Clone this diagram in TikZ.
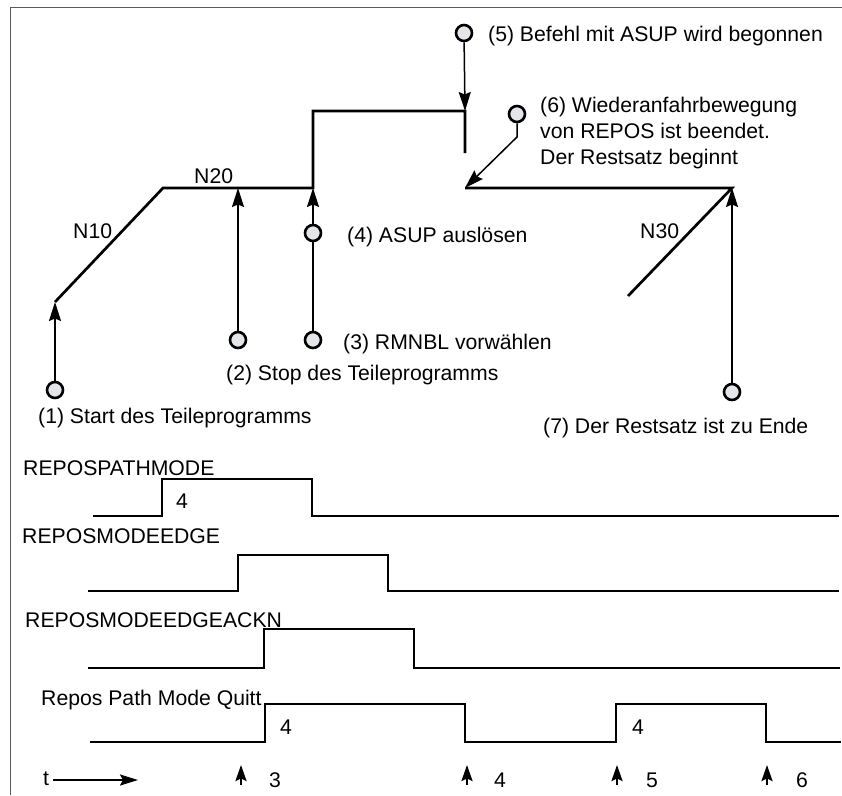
\documentclass[tikz,border=0pt]{standalone}
\usepackage{fontspec}
\setmainfont{Liberation Sans}
\usetikzlibrary{arrows.meta}
\definecolor{dotfill}{HTML}{E3E5E9}
\definecolor{framegray}{HTML}{5A5A5A}
\tikzset{
  lbl/.style={anchor=base west, inner sep=0pt, font=\fontsize{21.2}{26}\selectfont},
  dot/.style={circle, draw=black, line width=2.6pt, fill=dotfill, minimum size=16pt, inner sep=0pt},
  course/.style={line width=2.7pt, line join=miter},
  pointer/.style={line width=1.5pt, -{Stealth[length=19pt,width=12pt,inset=2.5pt]}},
  signal/.style={line width=2.4pt},
  tick/.style={line width=2.2pt, -{Stealth[length=16pt,width=11pt,inset=2.5pt]}},
  frame/.style={draw=framegray, line width=1.4pt},
}
\begin{document}
\begin{tikzpicture}[x=1pt, y=-1pt]
\useasboundingbox (0,0) rectangle (842,795);

% outer frame (top and left edges)
\draw[frame] (10.5,795) -- (10.5,7.5) -- (842,7.5);

% tool path N10 / N20 / ASUP excursion / N30
\coordinate (p0) at (55,302);
\coordinate (p1) at (163,188);
\coordinate (p2) at (238,188);
\coordinate (p3) at (313,188);
\coordinate (p4) at (313,111);
\coordinate (p5) at (465,111);
\coordinate (p6) at (465,153);
\coordinate (p7) at (465,188);
\coordinate (p8) at (732,188);
\coordinate (p9) at (628,296);
\draw[course] (p0) -- (p1) -- (p3) -- (p4) -- (p5) -- (p6);
\draw[course] (p7) -- (p8) -- (p9);

\node[lbl] (n10) at (73,238) {N10};
\node[lbl] (n20) at (194,183) {N20};
\node[lbl] (n30) at (640,238) {N30};

% event markers
\node[dot] (c1) at (55,390) {};
\node[dot] (c2) at (238,340) {};
\node[dot] (c3) at (313,340) {};
\node[dot] (c4) at (313,233) {};
\node[dot] (c5) at (464,33) {};
\node[dot] (c6) at (517,114) {};
\node[dot] (c7) at (732,392) {};
\coordinate (k6) at (517,137);

\draw[pointer] (c1) -- (p0);
\draw[pointer] (c2) -- (p2);
\draw[line width=1.5pt] (c3) -- (c4);
\draw[pointer] (c4) -- (p3);
\draw[pointer] (c5) -- (p5);
\draw[pointer] (c6.south) -- (k6) -- (p7);
\draw[pointer] (c7) -- (p8);

\node[lbl] (t1) at (38,423) {(1) Start des Teileprogramms};
\node[lbl] (t2) at (226,380) {(2) Stop des Teileprogramms};
\node[lbl] (t3) at (343,349) {(3) RMNBL vorwählen};
\node[lbl] (t4) at (347,242) {(4) ASUP auslösen};
\node[lbl] (t5) at (488,41) {(5) Befehl mit ASUP wird begonnen};
\node[lbl] (t6a) at (540,112) {(6) Wiederanfahrbewegung};
\node[lbl] (t6b) at (540,138) {von REPOS ist beendet.};
\node[lbl] (t6c) at (540,164) {Der Restsatz beginnt};
\node[lbl] (t7) at (543,433) {(7) Der Restsatz ist zu Ende};

% signal timing
\node[lbl] (s1) at (23,475) {REPOSPATHMODE};
\draw[signal] (93,516) -- (162,516) -- (162,479) -- (312,479) -- (312,516) -- (839,516);
\node[lbl] (v1) at (176,508) {4};

\node[lbl] (s2) at (22,543) {REPOSMODEEDGE};
\draw[signal] (88,591) -- (238,591) -- (238,555) -- (388,555) -- (388,591) -- (839,591);

\node[lbl] (s3) at (25,627) {REPOSMODEEDGEACKN};
\draw[signal] (88,668) -- (264,668) -- (264,629) -- (414,629) -- (414,668) -- (840,668);

\node[lbl] (s4) at (41,705) {Repos Path Mode Quitt};
\draw[signal] (90,742) -- (265,742) -- (265,704) -- (465,704) -- (465,742)
  -- (616,742) -- (616,704) -- (766,704) -- (766,742) -- (841,742);
\node[lbl] (v2) at (280,734) {4};
\node[lbl] (v3) at (632,734) {4};

% time axis and instants
\node[lbl] (tt) at (43,785) {t};
\coordinate (ta) at (53,780);
\coordinate (tb) at (138,780);
\draw[line width=2.2pt, -{Stealth[length=18pt,width=11pt,inset=3pt]}] (ta) -- (tb);

\coordinate (m3a) at (241,785); \coordinate (m3b) at (241,765);
\coordinate (m4a) at (467,785); \coordinate (m4b) at (467,765);
\coordinate (m5a) at (617,785); \coordinate (m5b) at (617,765);
\coordinate (m6a) at (767,785); \coordinate (m6b) at (767,765);
\draw[tick] (m3a) -- (m3b);
\draw[tick] (m4a) -- (m4b);
\draw[tick] (m5a) -- (m5b);
\draw[tick] (m6a) -- (m6b);
\node[lbl] (i3) at (269,787) {3};
\node[lbl] (i4) at (494,787) {4};
\node[lbl] (i5) at (646,787) {5};
\node[lbl] (i6) at (796,787) {6};
\end{tikzpicture}
\end{document}
